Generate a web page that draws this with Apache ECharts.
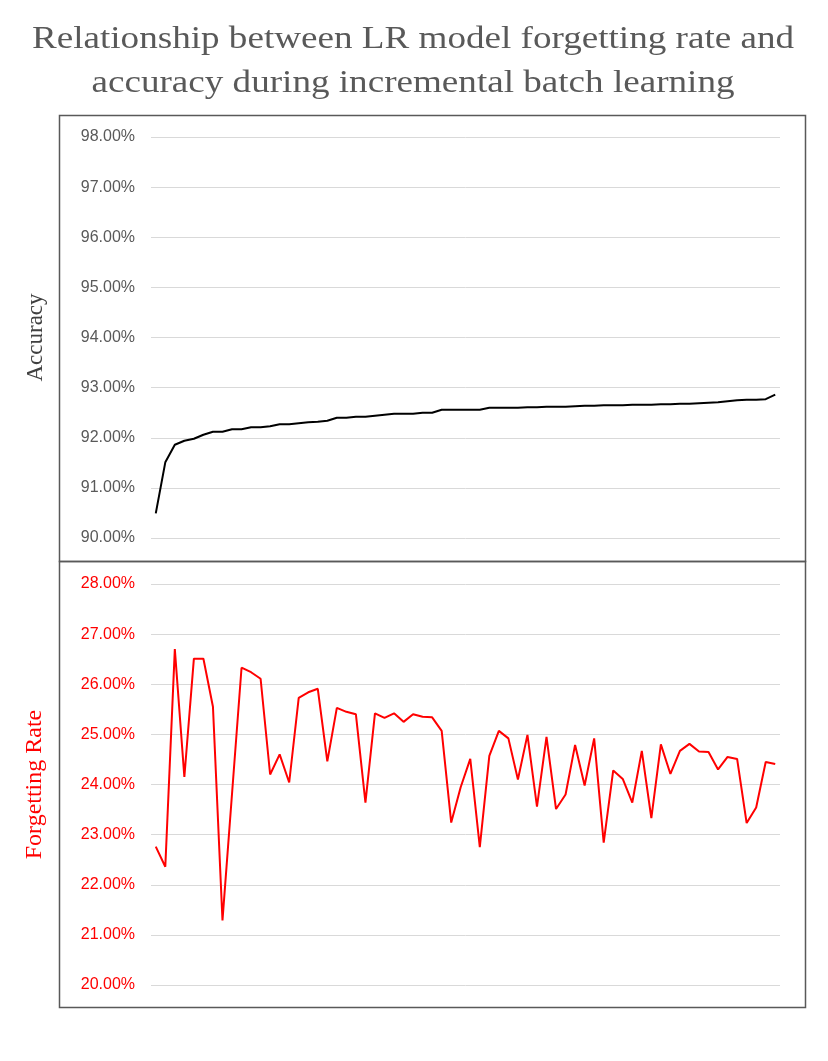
<!DOCTYPE html>
<html>
<head>
<meta charset="utf-8">
<script src="https://cdn.jsdelivr.net/npm/echarts@6/dist/echarts.min.js"></script>
<style>
  html, body { margin: 0; padding: 0; background: #fff; }
  #chart { width: 828px; height: 1061px; }
</style>
</head>
<body>
<div id="chart"></div>
<script>
// batch index (x axis is hidden in the picture)
var batches = [1, 2, 3, 4, 5, 6, 7, 8, 9, 10, 11, 12, 13, 14, 15, 16, 17, 18, 19, 20,
  21, 22, 23, 24, 25, 26, 27, 28, 29, 30, 31, 32, 33, 34, 35, 36, 37, 38, 39, 40,
  41, 42, 43, 44, 45, 46, 47, 48, 49, 50, 51, 52, 53, 54, 55, 56, 57, 58, 59, 60,
  61, 62, 63, 64, 65, 66]

// accuracy, in percent
var accuracy = [90.49, 91.51, 91.86, 91.94, 91.98, 92.06, 92.12, 92.12, 92.17, 92.17,
  92.21, 92.21, 92.23, 92.27, 92.27, 92.29, 92.31, 92.32, 92.34, 92.40,
  92.40, 92.42, 92.42, 92.44, 92.46, 92.48, 92.48, 92.48, 92.50, 92.50,
  92.56, 92.56, 92.56, 92.56, 92.56, 92.60, 92.60, 92.60, 92.60, 92.61,
  92.61, 92.62, 92.62, 92.62, 92.63, 92.64, 92.64, 92.65, 92.65, 92.65,
  92.66, 92.66, 92.66, 92.67, 92.67, 92.68, 92.68, 92.69, 92.70, 92.71,
  92.73, 92.75, 92.76, 92.76, 92.77, 92.86]

// forgetting rate, in percent
var forgetting = [22.76, 22.36, 26.70, 24.15, 26.51, 26.51, 25.55, 21.29, 23.81, 26.33,
  26.24, 26.11, 24.20, 24.60, 24.04, 25.73, 25.84, 25.91, 24.46, 25.53,
  25.45, 25.40, 23.64, 25.42, 25.33, 25.42, 25.25, 25.40, 25.35, 25.34,
  25.07, 23.24, 23.95, 24.51, 22.75, 24.57, 25.07, 24.92, 24.10, 24.99,
  23.56, 24.95, 23.51, 23.80, 24.79, 23.98, 24.92, 22.84, 24.28, 24.11,
  23.64, 24.67, 23.33, 24.80, 24.21, 24.67, 24.81, 24.66, 24.65, 24.30,
  24.55, 24.51, 23.23, 23.54, 24.45, 24.41]

var titleLines = [
  'Relationship between LR model forgetting rate and',
  'accuracy during incremental batch learning'
]

var chart = echarts.init(document.getElementById('chart'))

function pct(v) {
  return v.toFixed(2) + '%'
}

// title text, a bit wider than tall like in the original
function titleText(str, y) {
  return {
    type: 'text', x: 413, y: y, scaleX: 1.16,
    style: {
      text: str,
      font: '32px "Liberation Serif"',
      fill: '#595959',
      align: 'center',
      verticalAlign: 'middle'
    }
  }
}

var option = {
  animation: false,
  backgroundColor: '#fff',
  graphic: [
    titleText(titleLines[0], 40),
    titleText(titleLines[1], 84),
    // panel frames
    { type: 'rect', shape: { x: 59.5, y: 115.5, width: 746, height: 446 },
      style: { fill: 'none', stroke: '#595959', lineWidth: 1.5 } },
    { type: 'rect', shape: { x: 59.5, y: 561.5, width: 746, height: 446 },
      style: { fill: 'none', stroke: '#595959', lineWidth: 1.5 } }
  ],
  grid: [
    { left: 151, width: 629, top: 137, height: 401 },
    { left: 151, width: 629, top: 584, height: 401 }
  ],
  xAxis: [
    { type: 'category', gridIndex: 0, data: batches, show: false },
    { type: 'category', gridIndex: 1, data: batches, show: false }
  ],
  yAxis: [
    {
      type: 'value', gridIndex: 0, min: 90, max: 98, interval: 1,
      name: 'Accuracy', nameLocation: 'middle', nameGap: 104,
      nameTextStyle: { fontFamily: 'Liberation Serif', fontSize: 23, color: '#404040' },
      axisLine: { show: false }, axisTick: { show: false },
      axisLabel: { formatter: pct, fontFamily: 'Liberation Sans', fontSize: 16, color: '#595959', margin: 16 },
      splitLine: { lineStyle: { color: '#d9d9d9', width: 1 } }
    },
    {
      type: 'value', gridIndex: 1, min: 20, max: 28, interval: 1,
      name: 'Forgetting Rate', nameLocation: 'middle', nameGap: 104,
      nameTextStyle: { fontFamily: 'Liberation Serif', fontSize: 24, color: '#ff0000' },
      axisLine: { show: false }, axisTick: { show: false },
      axisLabel: { formatter: pct, fontFamily: 'Liberation Sans', fontSize: 16, color: '#ff0000', margin: 16 },
      splitLine: { lineStyle: { color: '#d9d9d9', width: 1 } }
    }
  ],
  series: [
    {
      name: 'Accuracy', type: 'line', xAxisIndex: 0, yAxisIndex: 0,
      data: accuracy, showSymbol: false, smooth: false,
      lineStyle: { color: '#000', width: 2 }
    },
    {
      name: 'Forgetting Rate', type: 'line', xAxisIndex: 1, yAxisIndex: 1,
      data: forgetting, showSymbol: false, smooth: false,
      lineStyle: { color: '#ff0000', width: 2 }
    }
  ]
}

chart.setOption(option)
</script>
</body>
</html>
